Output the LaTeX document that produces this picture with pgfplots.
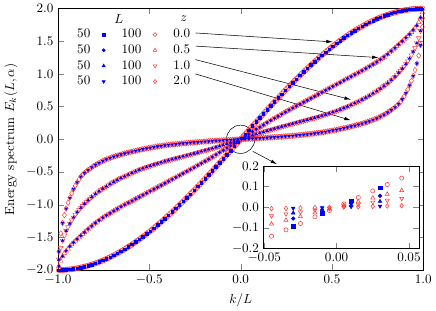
\documentclass[border=0pt]{standalone}
\usepackage{pgfplots}
\pgfplotsset{compat=1.18}
\usepackage{pgfplotstable}
\usetikzlibrary{arrows.meta}

\pgfplotstableread{
x z0 z05 z1 z2
-0.995 -2.000 -1.940 -1.840 -1.720
-0.985 -1.999 -1.860 -1.660 -1.440
-0.975 -1.999 -1.790 -1.550 -1.280
-0.965 -1.997 -1.740 -1.470 -1.160
-0.955 -1.995 -1.707 -1.400 -1.060
-0.945 -1.993 -1.673 -1.343 -0.970
-0.935 -1.990 -1.638 -1.288 -0.895
-0.925 -1.986 -1.607 -1.238 -0.825
-0.915 -1.982 -1.580 -1.195 -0.762
-0.905 -1.978 -1.553 -1.152 -0.707
-0.895 -1.973 -1.527 -1.114 -0.658
-0.885 -1.968 -1.501 -1.082 -0.614
-0.875 -1.962 -1.475 -1.050 -0.570
-0.865 -1.955 -1.449 -1.018 -0.542
-0.855 -1.948 -1.423 -0.986 -0.514
-0.845 -1.941 -1.398 -0.958 -0.490
-0.835 -1.933 -1.374 -0.933 -0.470
-0.825 -1.925 -1.350 -0.908 -0.450
-0.815 -1.916 -1.326 -0.883 -0.430
-0.805 -1.907 -1.302 -0.858 -0.410
-0.795 -1.897 -1.280 -0.835 -0.392
-0.785 -1.887 -1.260 -0.815 -0.377
-0.775 -1.876 -1.240 -0.795 -0.362
-0.765 -1.865 -1.220 -0.775 -0.347
-0.755 -1.854 -1.200 -0.755 -0.332
-0.745 -1.842 -1.182 -0.737 -0.319
-0.735 -1.829 -1.165 -0.720 -0.308
-0.725 -1.816 -1.148 -0.703 -0.298
-0.715 -1.803 -1.131 -0.686 -0.286
-0.705 -1.789 -1.114 -0.669 -0.275
-0.695 -1.775 -1.097 -0.653 -0.266
-0.685 -1.760 -1.081 -0.638 -0.257
-0.675 -1.745 -1.065 -0.623 -0.249
-0.665 -1.729 -1.049 -0.608 -0.241
-0.655 -1.713 -1.033 -0.593 -0.232
-0.645 -1.697 -1.018 -0.579 -0.224
-0.635 -1.680 -1.003 -0.566 -0.217
-0.625 -1.663 -0.988 -0.553 -0.210
-0.615 -1.645 -0.973 -0.540 -0.203
-0.605 -1.627 -0.958 -0.527 -0.196
-0.595 -1.609 -0.943 -0.514 -0.189
-0.585 -1.590 -0.928 -0.502 -0.182
-0.575 -1.571 -0.913 -0.490 -0.176
-0.565 -1.551 -0.898 -0.478 -0.170
-0.555 -1.531 -0.883 -0.466 -0.163
-0.545 -1.511 -0.868 -0.455 -0.157
-0.535 -1.490 -0.853 -0.445 -0.152
-0.525 -1.469 -0.838 -0.435 -0.146
-0.515 -1.447 -0.823 -0.425 -0.140
-0.505 -1.425 -0.808 -0.415 -0.135
-0.495 -1.403 -0.793 -0.406 -0.130
-0.485 -1.381 -0.778 -0.397 -0.125
-0.475 -1.358 -0.763 -0.388 -0.120
-0.465 -1.334 -0.748 -0.379 -0.115
-0.455 -1.311 -0.733 -0.370 -0.110
-0.445 -1.287 -0.718 -0.361 -0.106
-0.435 -1.263 -0.703 -0.353 -0.102
-0.425 -1.238 -0.688 -0.345 -0.098
-0.415 -1.213 -0.673 -0.337 -0.094
-0.405 -1.188 -0.658 -0.329 -0.090
-0.395 -1.163 -0.643 -0.321 -0.086
-0.385 -1.137 -0.628 -0.314 -0.083
-0.375 -1.111 -0.613 -0.306 -0.080
-0.365 -1.085 -0.598 -0.298 -0.077
-0.355 -1.058 -0.583 -0.291 -0.074
-0.345 -1.032 -0.568 -0.283 -0.071
-0.335 -1.005 -0.553 -0.276 -0.068
-0.325 -0.977 -0.538 -0.269 -0.065
-0.315 -0.950 -0.523 -0.261 -0.062
-0.305 -0.922 -0.508 -0.254 -0.059
-0.295 -0.894 -0.493 -0.246 -0.057
-0.285 -0.866 -0.478 -0.239 -0.054
-0.275 -0.837 -0.463 -0.232 -0.052
-0.265 -0.809 -0.448 -0.224 -0.050
-0.255 -0.780 -0.433 -0.217 -0.047
-0.245 -0.751 -0.417 -0.209 -0.045
-0.235 -0.722 -0.401 -0.202 -0.043
-0.225 -0.692 -0.385 -0.194 -0.040
-0.215 -0.663 -0.369 -0.186 -0.038
-0.205 -0.633 -0.353 -0.179 -0.036
-0.195 -0.603 -0.337 -0.171 -0.034
-0.185 -0.573 -0.320 -0.163 -0.032
-0.175 -0.543 -0.304 -0.155 -0.030
-0.165 -0.513 -0.287 -0.147 -0.028
-0.155 -0.482 -0.270 -0.139 -0.026
-0.145 -0.452 -0.254 -0.131 -0.024
-0.135 -0.421 -0.237 -0.122 -0.022
-0.125 -0.390 -0.220 -0.114 -0.020
-0.115 -0.359 -0.203 -0.105 -0.019
-0.105 -0.328 -0.186 -0.096 -0.017
-0.095 -0.297 -0.169 -0.088 -0.015
-0.085 -0.266 -0.152 -0.079 -0.014
-0.075 -0.235 -0.134 -0.070 -0.012
-0.065 -0.204 -0.116 -0.061 -0.010
-0.055 -0.173 -0.099 -0.052 -0.009
-0.045 -0.141 -0.081 -0.042 -0.007
-0.035 -0.110 -0.063 -0.033 -0.006
-0.025 -0.079 -0.045 -0.024 -0.004
-0.015 -0.047 -0.027 -0.014 -0.002
-0.005 -0.016 -0.009 -0.005 -0.001
0.005 0.016 0.009 0.005 0.001
0.015 0.047 0.027 0.014 0.002
0.025 0.079 0.045 0.024 0.004
0.035 0.110 0.063 0.033 0.006
0.045 0.141 0.081 0.042 0.007
0.055 0.173 0.099 0.052 0.009
0.065 0.204 0.116 0.061 0.010
0.075 0.235 0.134 0.070 0.012
0.085 0.266 0.152 0.079 0.014
0.095 0.297 0.169 0.088 0.015
0.105 0.328 0.186 0.096 0.017
0.115 0.359 0.203 0.105 0.019
0.125 0.390 0.220 0.114 0.020
0.135 0.421 0.237 0.122 0.022
0.145 0.452 0.254 0.131 0.024
0.155 0.482 0.270 0.139 0.026
0.165 0.513 0.287 0.147 0.028
0.175 0.543 0.304 0.155 0.030
0.185 0.573 0.320 0.163 0.032
0.195 0.603 0.337 0.171 0.034
0.205 0.633 0.353 0.179 0.036
0.215 0.663 0.369 0.186 0.038
0.225 0.692 0.385 0.194 0.040
0.235 0.722 0.401 0.202 0.043
0.245 0.751 0.417 0.209 0.045
0.255 0.780 0.433 0.217 0.047
0.265 0.809 0.448 0.224 0.050
0.275 0.837 0.463 0.232 0.052
0.285 0.866 0.478 0.239 0.054
0.295 0.894 0.493 0.246 0.057
0.305 0.922 0.508 0.254 0.059
0.315 0.950 0.523 0.261 0.062
0.325 0.977 0.538 0.269 0.065
0.335 1.005 0.553 0.276 0.068
0.345 1.032 0.568 0.283 0.071
0.355 1.058 0.583 0.291 0.074
0.365 1.085 0.598 0.298 0.077
0.375 1.111 0.613 0.306 0.080
0.385 1.137 0.628 0.314 0.083
0.395 1.163 0.643 0.321 0.086
0.405 1.188 0.658 0.329 0.090
0.415 1.213 0.673 0.337 0.094
0.425 1.238 0.688 0.345 0.098
0.435 1.263 0.703 0.353 0.102
0.445 1.287 0.718 0.361 0.106
0.455 1.311 0.733 0.370 0.110
0.465 1.334 0.748 0.379 0.115
0.475 1.358 0.763 0.388 0.120
0.485 1.381 0.778 0.397 0.125
0.495 1.403 0.793 0.406 0.130
0.505 1.425 0.808 0.415 0.135
0.515 1.447 0.823 0.425 0.140
0.525 1.469 0.838 0.435 0.146
0.535 1.490 0.853 0.445 0.152
0.545 1.511 0.868 0.455 0.157
0.555 1.531 0.883 0.466 0.163
0.565 1.551 0.898 0.478 0.170
0.575 1.571 0.913 0.490 0.176
0.585 1.590 0.928 0.502 0.182
0.595 1.609 0.943 0.514 0.189
0.605 1.627 0.958 0.527 0.196
0.615 1.645 0.973 0.540 0.203
0.625 1.663 0.988 0.553 0.210
0.635 1.680 1.003 0.566 0.217
0.645 1.697 1.018 0.579 0.224
0.655 1.713 1.033 0.593 0.232
0.665 1.729 1.049 0.608 0.241
0.675 1.745 1.065 0.623 0.249
0.685 1.760 1.081 0.638 0.257
0.695 1.775 1.097 0.653 0.266
0.705 1.789 1.114 0.669 0.275
0.715 1.803 1.131 0.686 0.286
0.725 1.816 1.148 0.703 0.298
0.735 1.829 1.165 0.720 0.308
0.745 1.842 1.182 0.737 0.319
0.755 1.854 1.200 0.755 0.332
0.765 1.865 1.220 0.775 0.347
0.775 1.876 1.240 0.795 0.362
0.785 1.887 1.260 0.815 0.377
0.795 1.897 1.280 0.835 0.392
0.805 1.907 1.302 0.858 0.410
0.815 1.916 1.326 0.883 0.430
0.825 1.925 1.350 0.908 0.450
0.835 1.933 1.374 0.933 0.470
0.845 1.941 1.398 0.958 0.490
0.855 1.948 1.423 0.986 0.514
0.865 1.955 1.449 1.018 0.542
0.875 1.962 1.475 1.050 0.570
0.885 1.968 1.501 1.082 0.614
0.895 1.973 1.527 1.114 0.658
0.905 1.978 1.553 1.152 0.707
0.915 1.982 1.580 1.195 0.762
0.925 1.986 1.607 1.238 0.825
0.935 1.990 1.638 1.288 0.895
0.945 1.993 1.673 1.343 0.970
0.955 1.995 1.707 1.400 1.060
0.965 1.997 1.740 1.470 1.160
0.975 1.999 1.790 1.550 1.280
0.985 1.999 1.860 1.660 1.440
0.995 2.000 1.940 1.840 1.720
}\spec

\pgfplotstableread{
x z0 z05 z1 z2
-0.03 -0.094 -0.055 -0.028 -0.005
-0.01 -0.031 -0.018 -0.009 -0.002
0.01 0.031 0.018 0.009 0.002
0.03 0.094 0.055 0.028 0.005
}\insetblue

\definecolor{lred}{rgb}{1,0.2,0.2}

\begin{document}
\begin{tikzpicture}
\begin{axis}[
  name=main,
  scale only axis,
  width=279pt, height=199.7pt,
  xmin=-1, xmax=1, ymin=-2, ymax=2,
  xtick={-1,-0.5,0,0.5,1},
  ytick={-2,-1.5,-1,-0.5,0,0.5,1,1.5,2},
  xticklabel style={/pgf/number format/.cd,fixed,fixed zerofill,precision=1},
  yticklabel style={/pgf/number format/.cd,fixed,fixed zerofill,precision=1},
  xlabel={$k/L$},
  ylabel={Energy spectrum $E_k(L,\alpha)$},
  legend plot pos=right,
  legend cell align=right,
  legend columns=3,
  legend image code/.code={\draw[#1] plot coordinates {(0pt,0pt)};},
  legend style={draw=none, fill=none, inner sep=0pt,
    at={(0.052,0.922)}, anchor=north west,
    nodes={inner sep=0pt}, row sep=3.8pt,
    /tikz/every odd column/.append style={column sep=9pt},
    /tikz/every even column/.append style={column sep=12.5pt}},
]
\addlegendimage{only marks, blue, mark=square*, mark size=1.2pt}
\addlegendentry{50}
\addlegendimage{only marks, lred, mark=o, mark size=1.5pt}
\addlegendentry{100}
\addlegendimage{empty legend}
\addlegendentry{0.0}
\addlegendimage{only marks, blue, mark=*, mark size=1.2pt}
\addlegendentry{50}
\addlegendimage{only marks, lred, mark=triangle, mark size=1.6pt}
\addlegendentry{100}
\addlegendimage{empty legend}
\addlegendentry{0.5}
\addlegendimage{only marks, blue, mark=triangle*, mark size=1.4pt}
\addlegendentry{50}
\addlegendimage{only marks, lred, mark=triangle, mark size=1.6pt, mark options={rotate=180}}
\addlegendentry{100}
\addlegendimage{empty legend}
\addlegendentry{1.0}
\addlegendimage{only marks, blue, mark=triangle*, mark size=1.4pt, mark options={rotate=180}}
\addlegendentry{50}
\addlegendimage{only marks, lred, mark=diamond, mark size=1.6pt}
\addlegendentry{100}
\addlegendimage{empty legend}
\addlegendentry{2.0}

% L = 100 (red, hollow)
\addplot[only marks, lred, mark=o, mark size=2pt, line width=0.35pt, forget plot] table[x=x,y=z0]{\spec};
\addplot[only marks, lred, mark=triangle, mark size=2.1pt, line width=0.35pt, forget plot] table[x=x,y=z05]{\spec};
\addplot[only marks, lred, mark=triangle, mark size=2.1pt, line width=0.35pt, mark options={rotate=180}, forget plot] table[x=x,y=z1]{\spec};
\addplot[only marks, lred, mark=diamond, mark size=2.1pt, line width=0.35pt, forget plot] table[x=x,y=z2]{\spec};
% L = 50 (blue, every second state)
\addplot[only marks, blue, mark=square*, mark size=0.95pt, each nth point=2, forget plot] table[x=x,y=z0]{\spec};
\addplot[only marks, blue, mark=*, mark size=0.95pt, each nth point=2, forget plot] table[x=x,y=z05]{\spec};
\addplot[only marks, blue, mark=triangle*, mark size=1.15pt, each nth point=2, forget plot] table[x=x,y=z1]{\spec};
\addplot[only marks, blue, mark=triangle*, mark size=1.15pt, mark options={rotate=180}, each nth point=2, forget plot] table[x=x,y=z2]{\spec};

\node at (axis cs:-0.667,1.84) {$L$};
\node at (axis cs:-0.312,1.84) {$z$};
\draw[-{Latex[length=5pt,width=2.6pt]}] (axis cs:-0.247,1.627) -- (axis cs:0.505,1.49);
\draw[-{Latex[length=5pt,width=2.6pt]}] (axis cs:-0.247,1.426) -- (axis cs:0.756,1.25);
\draw[-{Latex[length=5pt,width=2.6pt]}] (axis cs:-0.247,1.219) -- (axis cs:0.604,0.607);
\draw[-{Latex[length=5pt,width=2.6pt]}] (axis cs:-0.247,1.0) -- (axis cs:0.604,0.29);
\draw (axis cs:0,0) circle[radius=10.8pt];
\draw[-{Latex[length=5pt,width=2.6pt]}] (axis cs:0.066,-0.183) -- (axis cs:0.2,-0.382);
\end{axis}

\begin{axis}[
  at={(157pt,16.5pt)}, anchor=south west,
  scale only axis,
  width=118.8pt, height=63pt,
  xmin=-0.0505, xmax=0.057, ymin=-0.2, ymax=0.2,
  xtick={-0.05,0,0.05},
  ytick={-0.2,-0.1,0,0.1,0.2},
  scaled ticks=false,
  xticklabel style={/pgf/number format/.cd,fixed,fixed zerofill,precision=2},
  yticklabel style={/pgf/number format/.cd,fixed,fixed zerofill,precision=1},
  axis background/.style={fill=white},
]
\addplot[only marks, lred, mark=o, mark size=1.6pt, restrict x to domain=-0.05:0.05] table[x=x,y=z0]{\spec};
\addplot[only marks, lred, mark=triangle, mark size=1.8pt, restrict x to domain=-0.05:0.05] table[x=x,y=z05]{\spec};
\addplot[only marks, lred, mark=triangle, mark size=1.8pt, mark options={rotate=180}, restrict x to domain=-0.05:0.05] table[x=x,y=z1]{\spec};
\addplot[only marks, lred, mark=diamond, mark size=1.8pt, restrict x to domain=-0.05:0.05] table[x=x,y=z2]{\spec};
\addplot[only marks, blue, mark=square*, mark size=1.4pt] table[x=x,y=z0]{\insetblue};
\addplot[only marks, blue, mark=*, mark size=1.4pt] table[x=x,y=z05]{\insetblue};
\addplot[only marks, blue, mark=triangle*, mark size=1.6pt] table[x=x,y=z1]{\insetblue};
\addplot[only marks, blue, mark=triangle*, mark size=1.6pt, mark options={rotate=180}] table[x=x,y=z2]{\insetblue};
\end{axis}
\end{tikzpicture}
\end{document}
